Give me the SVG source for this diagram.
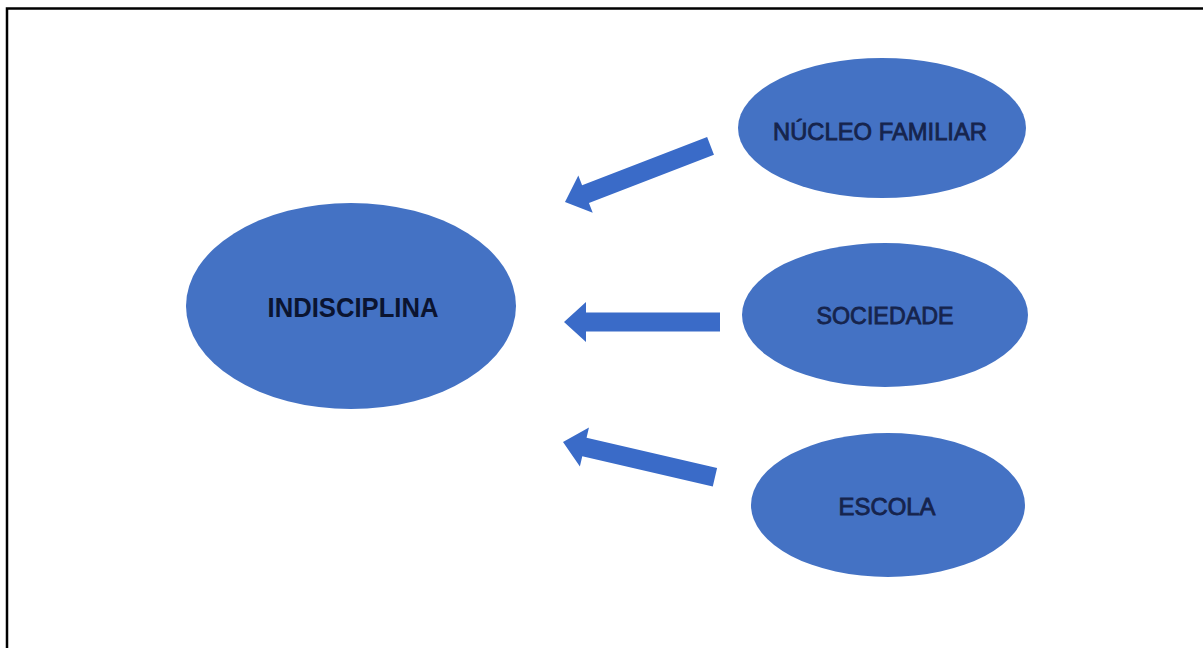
<svg xmlns="http://www.w3.org/2000/svg" width="1203" height="648" viewBox="0 0 1203 648">
  <style>
    .node { fill: #4472C4; }
    .lbl { font-family: "Liberation Sans", Arial, sans-serif; font-size: 23.5px; fill: #16244d; stroke: #16244d; stroke-width: 0.8; text-anchor: middle; }
    .main { font-family: "Liberation Sans", Arial, sans-serif; font-size: 28px; font-weight: bold; fill: #0b1430; text-anchor: middle; }
    .arrow { fill: #3A6BC8; }
    .frame { fill: none; stroke: #000; stroke-width: 2.5; }
  </style>
  <defs>
    <polygon id="arr156" points="0,0 22,-20 22,-9.5 156,-9.5 156,9.5 22,9.5 22,20"/>
  </defs>
  <rect width="1203" height="648" fill="#fff"/>
  <path class="frame" d="M7,648 V8.5 H1203"/>

  <g id="connectors">
    <use href="#arr156" class="arrow" transform="translate(565,202) rotate(-21.1)"/>
    <use href="#arr156" class="arrow" transform="translate(564,322)"/>
    <use href="#arr156" class="arrow" transform="translate(563,442) rotate(13.1)"/>
  </g>

  <g id="node-indisciplina">
    <ellipse class="node" cx="351" cy="306" rx="165" ry="103"/>
    <text class="main" x="353" y="317" textLength="171" lengthAdjust="spacingAndGlyphs">INDISCIPLINA</text>
  </g>
  <g id="node-nucleo-familiar">
    <ellipse class="node" cx="882" cy="128" rx="144" ry="70"/>
    <text class="lbl" x="880" y="140" textLength="214" lengthAdjust="spacingAndGlyphs">NÚCLEO FAMILIAR</text>
  </g>
  <g id="node-sociedade">
    <ellipse class="node" cx="885" cy="315" rx="143" ry="72"/>
    <text class="lbl" x="885" y="324" textLength="137" lengthAdjust="spacingAndGlyphs">SOCIEDADE</text>
  </g>
  <g id="node-escola">
    <ellipse class="node" cx="888" cy="505" rx="137" ry="72"/>
    <text class="lbl" x="887" y="515" textLength="97" lengthAdjust="spacingAndGlyphs">ESCOLA</text>
  </g>
</svg>
